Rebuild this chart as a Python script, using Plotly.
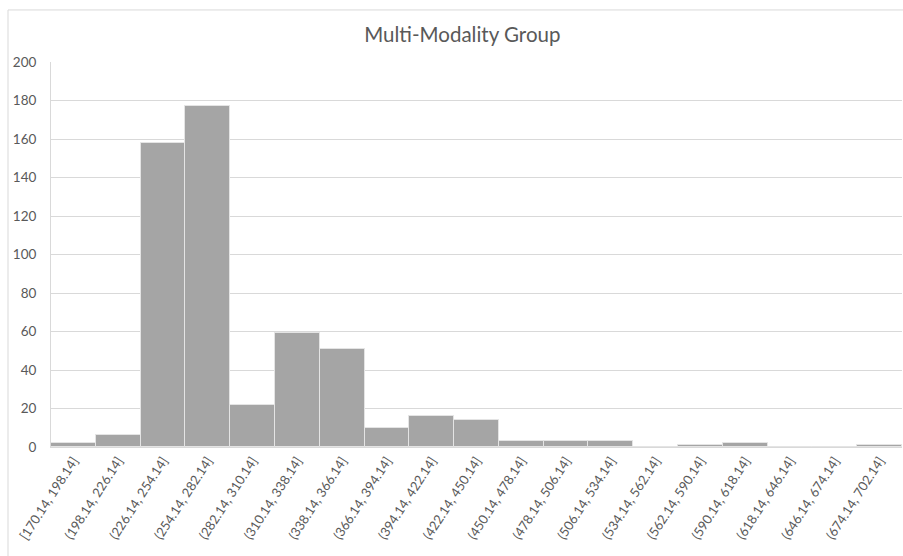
import plotly.graph_objects as go

# Histogram bins (bin labels) and their counts
bin_labels = [
    "[170.14, 198.14]", "(198.14, 226.14]", "(226.14, 254.14]", "(254.14, 282.14]",
    "(282.14, 310.14]", "(310.14, 338.14]", "(338.14, 366.14]", "(366.14, 394.14]",
    "(394.14, 422.14]", "(422.14, 450.14]", "(450.14, 478.14]", "(478.14, 506.14]",
    "(506.14, 534.14]", "(534.14, 562.14]", "(562.14, 590.14]", "(590.14, 618.14]",
    "(618.14, 646.14]", "(646.14, 674.14]", "(674.14, 702.14]",
]
counts = [2, 6, 158, 177, 22, 59, 51, 10, 16, 14, 3, 3, 3, 0, 1, 2, 0, 0, 1]

y_ticks = list(range(0, 201, 20))

FONT = "Lato, Carlito, Calibri, sans-serif"
TEXT = "#595959"
GRID = "#D9D9D9"

fig = go.Figure(
    go.Bar(
        x=bin_labels,
        y=counts,
        marker=dict(color="#A5A5A5", line=dict(color="#E4E4E4", width=1)),
        width=1.0,
    )
)

fig.update_layout(
    width=903,
    height=556,
    margin=dict(l=51, r=1, t=62, b=109),
    paper_bgcolor="white",
    plot_bgcolor="white",
    bargap=0,
    showlegend=False,
    title=dict(
        text="Multi-Modality Group",
        x=0.512,
        xanchor="center",
        y=1 - 35 / 556,
        yanchor="middle",
        font=dict(family=FONT, size=20.5, color=TEXT),
    ),
    font=dict(family=FONT, size=12, color=TEXT),
    xaxis=dict(
        tickangle=-57,
        tickfont=dict(family=FONT, size=13, color=TEXT),
        showgrid=False,
        showline=True,
        linecolor=GRID,
        linewidth=1,
        ticks="",
        ticklen=0,
        fixedrange=True,
    ),
    yaxis=dict(
        range=[0, 200],
        tickvals=y_ticks,
        tickfont=dict(family=FONT, size=13.5, color=TEXT),
        showgrid=True,
        gridcolor=GRID,
        gridwidth=1,
        zeroline=False,
        showline=True,
        linecolor=GRID,
        linewidth=1,
        ticks="",
        ticklabelstandoff=11,
        fixedrange=True,
    ),
    shapes=[
        # chart-area frame, partly cut off at the right and bottom edges
        dict(
            type="rect",
            xref="paper",
            yref="paper",
            x0=(8 - 51) / 851,
            x1=(960 - 51) / 851,
            y0=-(600 - 446.7) / 384.7,
            y1=(446.7 - 10) / 384.7,
            line=dict(color=GRID, width=1),
            fillcolor="rgba(0,0,0,0)",
            layer="below",
        )
    ],
)

fig.write_html("out.html")
